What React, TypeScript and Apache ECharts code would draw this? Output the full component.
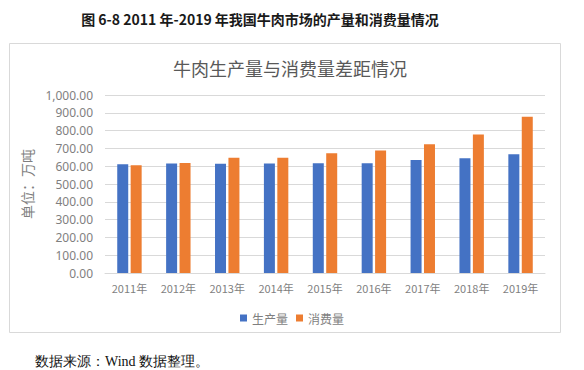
import React, { useEffect, useRef } from "react";
import * as echarts from "echarts";

const categories = ["2011年", "2012年", "2013年", "2014年", "2015年", "2016年", "2017年", "2018年", "2019年"];
const production = [610.7, 614.7, 613.1, 615.7, 616.9, 616.9, 634.6, 644.1, 667.3];
const consumption = [606, 618, 647, 648, 673, 688, 723, 778, 878];
const seriesNames = ["生产量", "消费量"];

export default function App() {
  const ref = useRef<HTMLDivElement>(null);
  useEffect(() => {
    if (!ref.current) return;
    const chart = echarts.init(ref.current, null, { renderer: "svg" });
    const gray = "#7f7f7f";
    chart.setOption({
      animation: false,
      backgroundColor: "#ffffff",
      title: [
        {
          text: "图 6-8 2011 年-2019 年我国牛肉市场的产量和消费量情况",
          left: 255,
          top: 7,
          textAlign: "center",
          textStyle: { fontSize: 14, fontWeight: "bold", color: "#1a1a1a", fontFamily: "Noto Sans CJK SC" },
        },
        {
          text: "牛肉生产量与消费量差距情况",
          left: 285,
          top: 54,
          textAlign: "center",
          textStyle: { fontSize: 18, fontWeight: "normal", color: "#595959", fontFamily: "Noto Sans CJK SC" },
        },
        {
          text: "数据来源：Wind 数据整理。",
          left: 35,
          top: 353,
          padding: 0,
          textStyle: {
            fontSize: 14,
            lineHeight: 16,
            fontWeight: "normal",
            color: "#111111",
            fontFamily: "'Liberation Serif', 'DejaVu Serif', serif",
          },
        },
      ],
      graphic: [
        {
          type: "rect",
          shape: { x: 9.5, y: 43.5, width: 551, height: 289 },
          style: { fill: "none", stroke: "#d9d9d9", lineWidth: 1 },
          silent: true,
          z: -1,
        },
      ],
      legend: {
        data: seriesNames,
        left: "center",
        top: 307,
        itemWidth: 7,
        itemHeight: 7,
        itemGap: 8,
        icon: "rect",
        textStyle: { fontSize: 12, color: gray, fontFamily: "Noto Sans CJK SC" },
      },
      grid: { left: 105, right: 39, top: 95, bottom: 97 },
      xAxis: {
        type: "category",
        data: categories,
        axisLine: { lineStyle: { color: "#d9d9d9" } },
        axisTick: { show: false },
        axisLabel: { interval: 0, fontSize: 11, color: gray, margin: 9, fontFamily: "Noto Sans CJK SC" },
      },
      yAxis: {
        type: "value",
        min: 0,
        max: 1000,
        interval: 100,
        name: "单位：万吨",
        nameLocation: "middle",
        nameRotate: 90,
        nameGap: 63,
        nameTextStyle: { fontSize: 14, color: gray, fontFamily: "Noto Sans CJK SC" },
        axisLine: { show: false },
        axisTick: { show: false },
        splitLine: { lineStyle: { color: "#d9d9d9" } },
        axisLabel: {
          fontSize: 12,
          color: gray,
          margin: 12,
          fontFamily: "Noto Sans",
          formatter: (v: number) =>
            v.toLocaleString("en-US", { minimumFractionDigits: 2, maximumFractionDigits: 2 }),
        },
      },
      series: [
        {
          name: seriesNames[0],
          type: "bar",
          data: production,
          barWidth: 11,
          barGap: "22%",
          itemStyle: { color: "#4472C4" },
        },
        {
          name: seriesNames[1],
          type: "bar",
          data: consumption,
          barWidth: 11,
          itemStyle: { color: "#ED7D31" },
        },
      ],
    });
    return () => chart.dispose();
  }, []);
  return (
    <div
      ref={ref}
      style={{ position: "fixed", left: 0, top: 0, width: 584, height: 370, background: "#fff" }}
    />
  );
}
